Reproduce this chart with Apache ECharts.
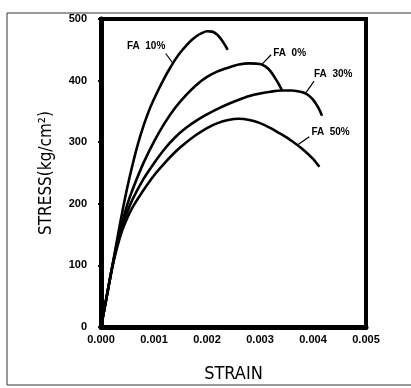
<!DOCTYPE html>
<html>
<head>
<meta charset="utf-8">
<script src="https://cdn.jsdelivr.net/npm/echarts@6/dist/echarts.min.js"></script>
<style>
html,body{margin:0;padding:0;background:#fff;}
#c{width:411px;height:388px;}
</style>
</head>
<body>
<div id="c"></div>
<script>
var seriesNames = ['FA 10%', 'FA 0%', 'FA 30%', 'FA 50%'];
var fa10 = [[0,0],[0.0001,46],[0.0002,92],[0.0003,140],[0.0004,186],[0.0005,228],[0.0006,265],[0.0007,298],[0.0008,326],[0.0009,350],[0.001,370],[0.0011,388],[0.0012,405],[0.0013,420],[0.0014,434],[0.0015,446],[0.0016,456],[0.0017,465],[0.0018,472],[0.0019,477],[0.002,480],[0.0021,479.5],[0.0022,474],[0.0023,463],[0.00239,450]];
var fa0 = [[0,0],[0.0001,46],[0.0002,92],[0.0003,135],[0.0004,170],[0.0005,200],[0.0006,224],[0.0008,266],[0.001,301],[0.0012,331],[0.0014,356],[0.0016,376],[0.0018,393],[0.002,406],[0.0022,415],[0.0024,421],[0.0026,426],[0.0028,428],[0.003,427],[0.0031,423],[0.0032,415],[0.0033,402],[0.00337,392],[0.00342,383]];
var fa30 = [[0,0],[0.0001,46],[0.0002,92],[0.0003,132],[0.0004,164],[0.0005,188],[0.0006,208],[0.0008,240],[0.001,266],[0.0012,289],[0.0014,308],[0.0016,323],[0.0018,335],[0.002,345],[0.0022,354],[0.0024,362],[0.0026,369],[0.0028,375],[0.003,379],[0.0032,382],[0.0034,384],[0.0036,384],[0.0038,381],[0.0039,377],[0.004,369],[0.0041,356],[0.00417,343]];
var fa50 = [[0,0],[0.0001,46],[0.0002,92],[0.0003,128],[0.0004,157],[0.0005,178],[0.0006,195],[0.0008,222],[0.001,246],[0.0012,266],[0.0014,284],[0.0016,299],[0.0018,312],[0.002,323],[0.0022,331],[0.0024,336],[0.0026,338],[0.0028,336],[0.003,331],[0.0032,323],[0.0034,313],[0.0036,302],[0.0038,289],[0.004,273],[0.00412,260]];
var xTicks = [0, 0.001, 0.002, 0.003, 0.004, 0.005];
var yTicks = [0, 100, 200, 300, 400, 500];
// label text anchor (data coords) and leader line endpoints (data coords)
var labelPos = [[0.00049,456],[0.00325,445],[0.00402,411],[0.00397,316]];
var leaderFrom = [[0.00122,444],[0.00321,442],[0.00402,399],[0.00393,309]];
var leaderTo = [[0.00135,429],[0.00303,426],[0.00387,381],[0.0037,295]];

var COND = '"DejaVu Sans Condensed","DejaVu Sans",sans-serif';
var SANS = '"Liberation Sans",Arial,sans-serif';
var chart = echarts.init(document.getElementById('c'), null, {renderer:'canvas'});
var datasets = [fa10, fa0, fa30, fa50];
var series = datasets.map(function(d, i){
  return {
    name: seriesNames[i], type: 'line', data: d, smooth: 0.3, showSymbol: false,
    lineStyle: {color: '#000', width: 2.6}, z: 3, animation: false
  };
});
chart.setOption({
  animation: false,
  backgroundColor: '#fff',
  grid: {left: 101, right: 45, top: 19, bottom: 56, show: true, borderColor: '#000', borderWidth: 4},
  xAxis: {
    type: 'value', min: 0, max: 0.005, interval: 0.001,
    name: 'STRAIN', nameLocation: 'middle', nameGap: 38,
    nameTextStyle: {fontFamily: COND, fontSize: 18, color: '#000'},
    axisLine: {show: true, lineStyle: {color: '#000', width: 5}},
    axisTick: {show: true, length: 3, lineStyle: {color: '#000', width: 2}},
    splitLine: {show: false},
    axisLabel: {fontFamily: SANS, fontSize: 11, fontWeight: 'bold', color: '#000', margin: 7,
      formatter: function(v){ return v.toFixed(3); }}
  },
  yAxis: {
    type: 'value', min: 0, max: 500, interval: 100,
    name: 'STRESS(kg/cm²)', nameLocation: 'middle', nameGap: 46,
    nameTextStyle: {fontFamily: COND, fontSize: 17, color: '#000'},
    axisLine: {show: true, lineStyle: {color: '#000', width: 5}},
    axisTick: {show: true, length: 3, lineStyle: {color: '#000', width: 2}},
    splitLine: {show: false},
    axisLabel: {fontFamily: SANS, fontSize: 11, fontWeight: 'bold', color: '#000', margin: 14}
  },
  series: series
});

var g = [];
// outer thin frame (left, top, bottom), open on the right
g.push({type:'polyline', shape:{points:[[411,13],[7,13],[7,385],[411,385]]}, style:{stroke:'#333', lineWidth:1, fill:null}});
for (var i = 0; i < seriesNames.length; i++) {
  var p = chart.convertToPixel({gridIndex:0}, labelPos[i]);
  var a = chart.convertToPixel({gridIndex:0}, leaderFrom[i]);
  var b = chart.convertToPixel({gridIndex:0}, leaderTo[i]);
  g.push({type:'text', x:p[0], y:p[1], style:{text:seriesNames[i].replace(' ', '  '), font:'bold 10px ' + SANS, fill:'#000', textVerticalAlign:'middle'}});
  g.push({type:'line', shape:{x1:a[0],y1:a[1],x2:b[0],y2:b[1]}, style:{stroke:'#000', lineWidth:1.2}});
}
chart.setOption({graphic: g});
</script>
</body>
</html>
